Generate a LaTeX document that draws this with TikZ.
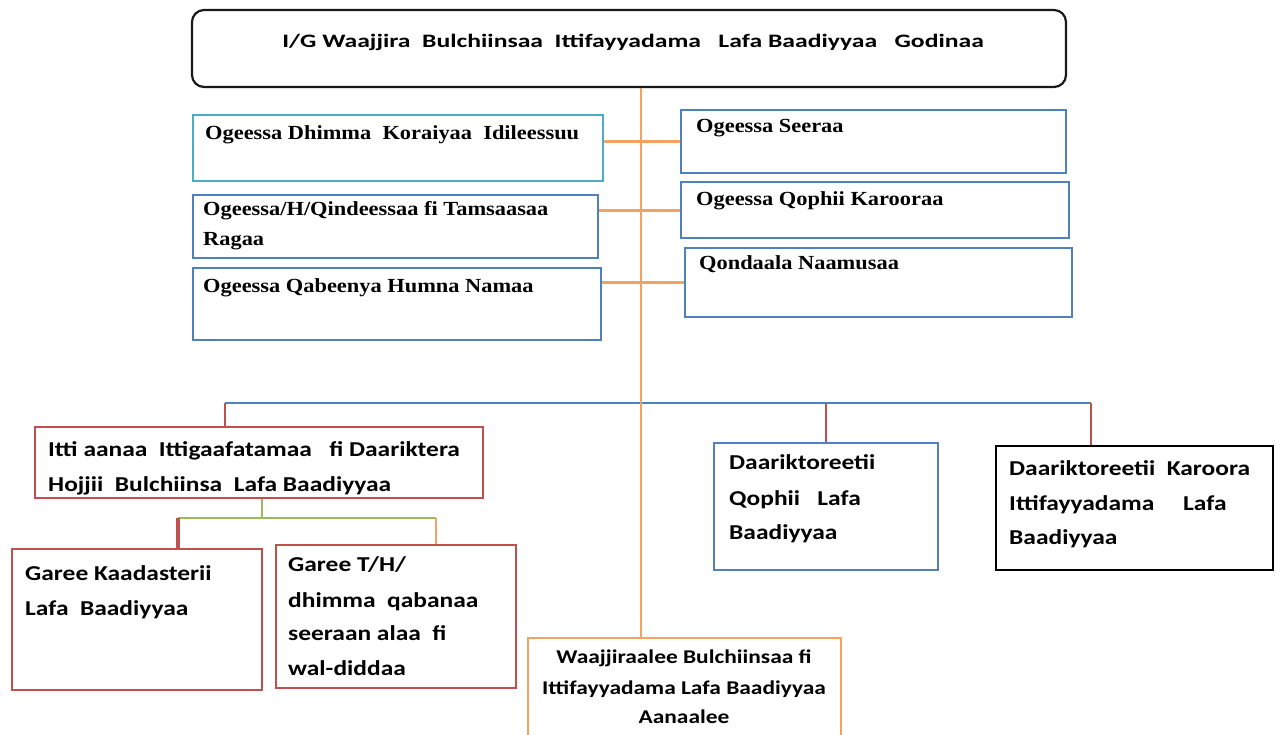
\documentclass[tikz,border=0pt]{standalone}
\usepackage{fontspec}
\setmainfont{Liberation Serif}
\newfontfamily\sfb{Carlito}[FakeStretch=1.2]
\newfontfamily\sfw{Carlito}[FakeStretch=1.35]
\newfontfamily\srb{Liberation Serif}[FakeStretch=1.12]
\usetikzlibrary{fit}
\definecolor{oorange}{HTML}{F4A261}
\definecolor{oblue}{HTML}{4F81BD}
\definecolor{ored}{HTML}{C0504D}
\definecolor{ogreen}{HTML}{9BBB59}
\definecolor{oteal}{HTML}{4BACC6}
\begin{document}
\begin{tikzpicture}[x=1pt,y=-1pt,
  box/.style={draw=#1, line width=1.6pt, inner sep=0pt},
  sertxt/.style={anchor=west, inner sep=0pt, text height=0.7em, text depth=0.2em,
    font=\srb\bfseries\fontsize{20}{24}\selectfont},
  sanstxt/.style={anchor=west, inner sep=0pt, text height=0.7em, text depth=0.2em,
    font=\sfb\bfseries\fontsize{21.2}{24}\selectfont},
  toptxt/.style={anchor=center, inner sep=0pt, text height=0.7em, text depth=0.2em,
    font=\sfw\bfseries\fontsize{19}{20}\selectfont},
  bottxt/.style={anchor=center, inner sep=0pt, text height=0.7em, text depth=0.2em,
    font=\sfb\bfseries\fontsize{19.5}{20}\selectfont},
  oline/.style={draw=oorange, line width=2.6pt},
  bline/.style={draw=oblue, line width=2.6pt},
  rline/.style={draw=ored, line width=1.6pt},
  gline/.style={draw=ogreen, line width=2pt}]
\useasboundingbox (0,0) rectangle (1281,734);
\fill[white] (0,0) rectangle (1281,734);

% top box
\node[draw=black!90, line width=2.2pt, rounded corners=12pt, inner sep=0pt,
  fit={(192,10)(1066,87)}] (top) {};
\node[toptxt] (topt) at (633,45) {I/G Waajjira\ \ Bulchiinsaa\ \ Ittifayyadama\ \ \ Lafa Baadiyyaa\ \ \ Godinaa};

% upper left boxes
\node[box=oteal, fit={(193,115)(603,181)}] (l1) {};
\node[sertxt] (l1t) at (205,137) {Ogeessa Dhimma\ \ Koraiyaa\ \ Idileessuu};
\node[box=oblue, fit={(193,195)(598,258)}] (l2) {};
\node[sertxt] (l2t) at (203,213) {Ogeessa/H/Qindeessaa fi Tamsaasaa};
\node[sertxt] (l2u) at (203,243) {Ragaa};
\node[box=oblue, fit={(193,268)(601,340)}] (l3) {};
\node[sertxt] (l3t) at (203,290) {Ogeessa Qabeenya Humna Namaa};

% upper right boxes
\node[box=oblue, fit={(681,110)(1066,173)}] (r1) {};
\node[sertxt] (r1t) at (696,130) {Ogeessa Seeraa};
\node[box=oblue, fit={(681,182)(1069,238)}] (r2) {};
\node[sertxt] (r2t) at (696,203) {Ogeessa Qophii Karooraa};
\node[box=oblue, fit={(685,248)(1072,317)}] (r3) {};
\node[sertxt] (r3t) at (699,267) {Qondaala Naamusaa};

% lower boxes
\node[box=ored, fit={(35,427)(483,498)}] (itti) {};
\node[sanstxt] (itt1) at (48,454) {Itti aanaa\ \ Ittigaafatamaa\ \ \ fi Daariktera};
\node[sanstxt] (itt2) at (48,489) {Hojjii\ \ Bulchiinsa\ \ Lafa Baadiyyaa};

\node[box=ored, fit={(12,549)(262,690)}] (gk) {};
\node[sanstxt] (gk1) at (25,578) {Garee Kaadasterii};
\node[sanstxt] (gk2) at (25,613) {Lafa\ \ Baadiyyaa};

\node[box=ored, fit={(276,545)(516,688)}] (gt) {};
\node[sanstxt] (gt1) at (288,569) {Garee T/H/};
\node[sanstxt] (gt2) at (288,605) {dhimma\ \ qabanaa};
\node[sanstxt] (gt3) at (288,638) {seeraan alaa\ \ fi};
\node[sanstxt] (gt4) at (288,673) {wal-diddaa};

\node[box=oblue, fit={(714,443)(938,570)}] (qo) {};
\node[sanstxt] (qo1) at (729,467) {Daariktoreetii};
\node[sanstxt] (qo2) at (729,503) {Qophii\ \ \ Lafa};
\node[sanstxt] (qo3) at (729,537) {Baadiyyaa};

\node[draw=black, line width=2.6pt, inner sep=0pt, fit={(996,446)(1273,570)}] (kar) {};
\node[sanstxt] (kar1) at (1009,473) {Daariktoreetii\ \ Karoora};
\node[sanstxt] (kar2) at (1009,508) {Ittifayyadama\ \ \ \ \ Lafa};
\node[sanstxt] (kar3) at (1009,542) {Baadiyyaa};

\node[box=oorange, fit={(528,638)(841,740)}] (bot) {};
\node[bottxt] (bot1) at (684,661) {Waajjiraalee Bulchiinsaa fi};
\node[bottxt] (bot2) at (684,692) {Ittifayyadama Lafa Baadiyyaa};
\node[bottxt] (bot3) at (684,721) {Aanaalee};

% connectors
\coordinate (sp) at (641,403);
\coordinate (bl) at (225,403);
\coordinate (br) at (1091,403);
\draw[bline] (bl) -- (br);
\draw[oline] (top.south -| sp) -- (bot.north -| sp);
\draw[oline, line width=3pt] (r1.west -| l1.east) -- (r1.west);
\draw[oline, line width=3pt] (r2.west -| l2.east) -- (r2.west);
\draw[oline, line width=3pt] (r3.west -| l3.east) -- (r3.west);
\draw[rline] (bl) -- (itti.north -| bl);
\draw[rline] (qo.north |- bl) -- (qo.north);
\draw[rline] (br) -- (kar.north -| br);

\coordinate (gj) at (262,518);
\coordinate (gl) at (178,518);
\coordinate (gr) at (436,518);
\draw[gline] (itti.south -| gj) -- (gj);
\draw[gline] (gl) -- (gr);
\draw[rline, line width=3.5pt] (gl) -- (gk.north -| gl);
\draw[oline, line width=2pt] (gr) -- (gt.north -| gr);
\end{tikzpicture}
\end{document}
